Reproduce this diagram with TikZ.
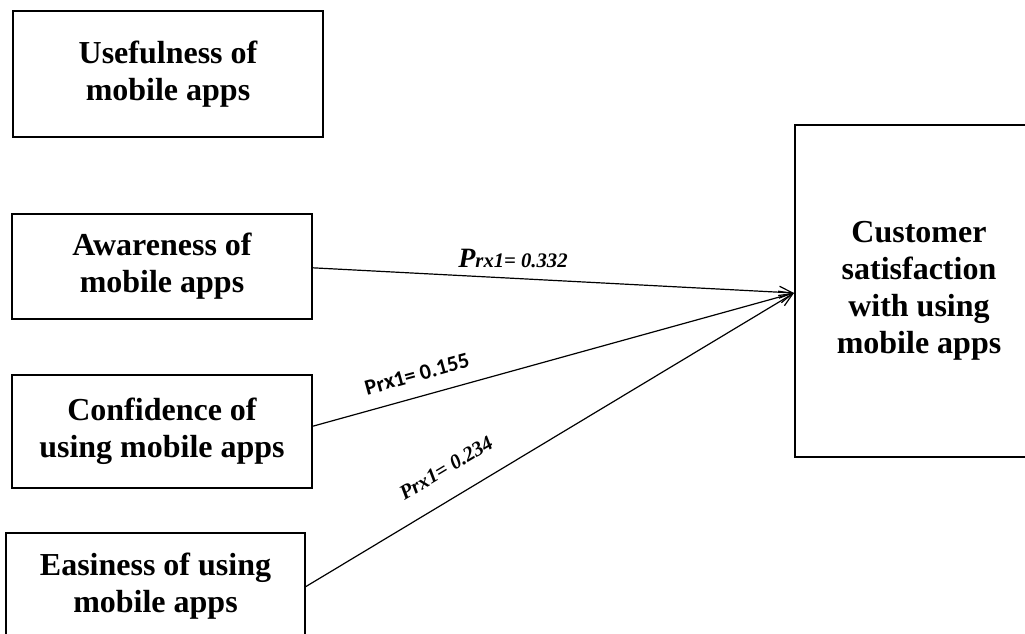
\documentclass[tikz,border=0pt]{standalone}
\usepackage{fontspec}
\setmainfont{Liberation Serif}
\newfontfamily\calibfont{Carlito}
\usetikzlibrary{arrows.meta}
\begin{document}
\begin{tikzpicture}[x=0.75pt,y=-0.75pt,
  box/.style={draw, line width=1.5pt, font=\fontsize{24}{27.75}\selectfont\bfseries, align=center, inner sep=0pt},
  conn/.style={line width=0.9pt, -{Straight Barb[length=10pt,width=9pt]}},
  lab/.style={font=\fontsize{15.5}{15.5}\selectfont\bfseries\itshape, inner sep=0pt}]
\useasboundingbox (0,0) rectangle (1025,634);
\clip (0,0) rectangle (1025,634);
\node[box, minimum width=232.5pt, minimum height=94.5pt] (b1) at (168,74) {Usefulness of\\mobile apps};
\node[box, minimum width=225pt, minimum height=78.75pt] (b2) at (162,266.5) {Awareness of\\mobile apps};
\node[box, minimum width=225pt, minimum height=84.75pt] (b3) at (162,431.5) {Confidence of\\using mobile apps};
\node[box, minimum width=224.25pt, minimum height=80.25pt] (b4) at (155.5,586.5) {Easiness of using\\mobile apps};
\node[box, minimum width=186pt, minimum height=249pt] (b5) at (919,291) {Customer\\satisfaction\\with using\\mobile apps};
\coordinate (t) at ([yshift=-1.5pt]b5.west);
\draw[conn] ([yshift=-1pt]b2.east) -- (t);
\draw[conn] ([yshift=4pt]b3.east) -- (t);
\draw[conn] (b4.east) -- (t);
\node[lab] (l1) at (513,258) {{\fontsize{21}{21}\selectfont P}rx1= 0.332};
\node[font=\calibfont\fontsize{16.5}{16.5}\selectfont\bfseries, inner sep=0pt, rotate=15.4] (l2) at (417,374) {Prx1= 0.155};
\node[lab, rotate=30.9] (l3) at (446,468) {Prx1= 0.234};
\end{tikzpicture}
\end{document}
